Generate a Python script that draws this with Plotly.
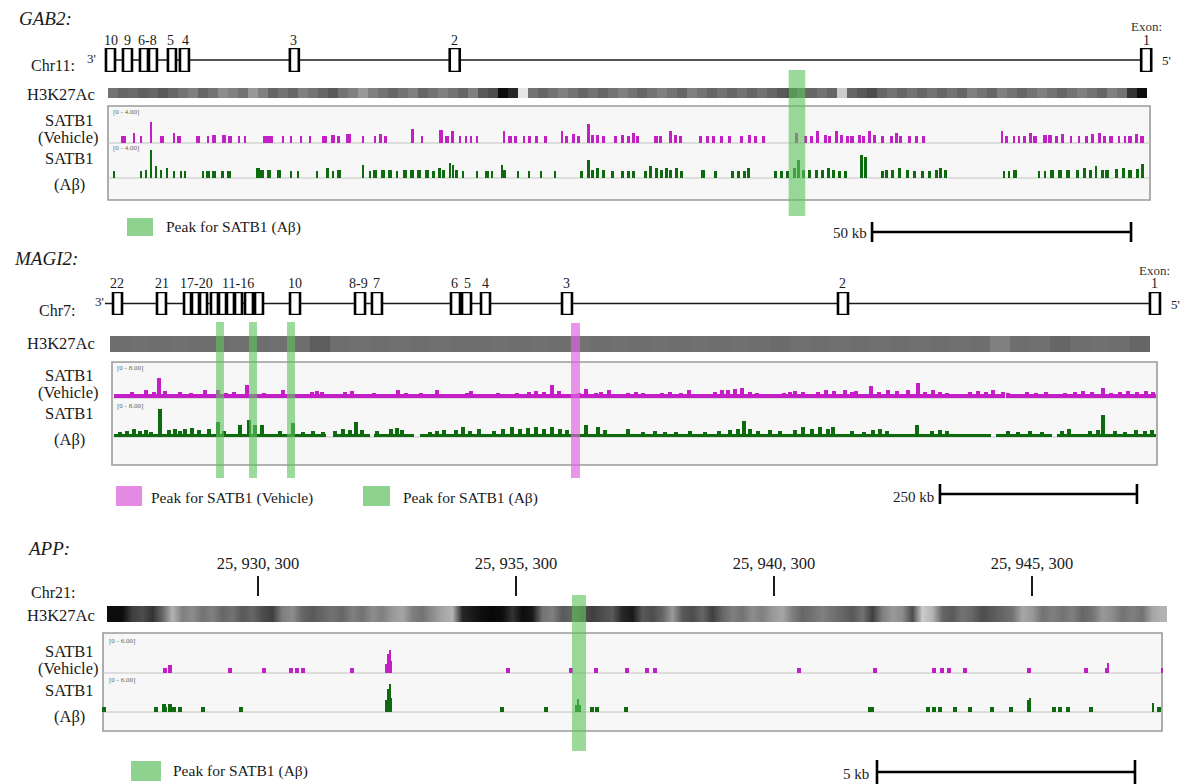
import plotly.graph_objects as go

W, H = 1186, 784
def PX(px): return px / W
def PY(py): return 1 - py / H

SERIF = "Liberation Serif, Times New Roman, serif"
VEH_COLOR = "#c41fc4"
AB_COLOR = "#0e6a0e"
GREEN_HL = "rgba(95,195,95,0.62)"
PINK_HL = "rgba(222,100,222,0.68)"

# ======================= GAB2 (kb) =======================
GAB2_EXONS = [(-0.39, 1.35), (2.89, 4.63), (6.17, 7.72), (7.91, 9.45), (11.57, 13.12),
              (13.89, 15.63), (35.11, 36.84), (65.97, 67.90), (199.46, 201.39)]
GAB2_LABELS = ["10", "9", "6-8", "5", "4", "3", "2", "1"]
GAB2_LABEL_X = [0.58, 3.86, 7.72, 12.15, 15.05, 35.88, 66.94, 200.42]
GAB2_SPAN = (-0.58, 200.42)
GAB2_H3_BIN_KB = 1.929
GAB2_H3 = [0.55, 0.6, 0.58, 0.62, 0.6, 0.65, 0.6, 0.55, 0.5, 0.6, 0.55, 0.45, 0.5, 0.55,
           0.4, 0.5, 0.6, 0.55, 0.6, 0.5, 0.55, 0.6, 0.65, 0.55, 0.5, 0.4, 0.5, 0.55,
           0.6, 0.55, 0.5, 0.6, 0.55, 0.5, 0.55, 0.6, 0.5, 0.65, 0.7, 0.95, 0.85, 0.1,
           0.55, 0.6, 0.55, 0.5, 0.55, 0.6, 0.55, 0.6, 0.55, 0.5, 0.55, 0.6, 0.55, 0.5,
           0.55, 0.6, 0.5, 0.55, 0.6, 0.55, 0.6, 0.55, 0.6, 0.55, 0.6, 0.65, 0.7, 0.6,
           0.6, 0.55, 0.6, 0.2, 0.6, 0.65, 0.7, 0.6, 0.55, 0.6, 0.55, 0.6, 0.55, 0.6,
           0.55, 0.6, 0.5, 0.55, 0.6, 0.5, 0.55, 0.6, 0.55, 0.5, 0.55, 0.6, 0.55, 0.5,
           0.55, 0.6, 0.5, 0.55, 0.8, 0.95]
# (position kb, signal, bin width kb)
GAB2_VEH = [
    (2.99, 0.85, 0.96), (5.02, 1.2, 0.45), (6.37, 0.8, 0.45), (8.29, 2.6, 0.55), (10.42, 0.85, 0.77),
    (12.73, 1.2, 0.45), (13.70, 0.85, 0.77), (17.36, 0.8, 0.7), (19.29, 0.8, 0.45), (20.45, 0.95, 0.77),
    (22.38, 1.0, 0.77), (23.53, 0.85, 0.7), (25.27, 0.8, 0.45), (26.43, 0.8, 0.45), (30.86, 0.85, 1.93),
    (33.76, 0.8, 0.45), (35.30, 0.8, 0.45), (37.23, 0.8, 0.45), (38.97, 0.8, 0.45), (41.86, 0.85, 0.96),
    (43.40, 1.0, 0.7), (44.56, 0.8, 0.55), (46.49, 1.1, 0.96), (49.19, 0.8, 0.45), (51.50, 0.8, 0.45),
    (52.66, 1.1, 0.55), (53.63, 0.85, 0.55), (58.83, 1.7, 0.55), (60.57, 0.8, 0.45), (64.24, 1.6, 0.7),
    (65.39, 0.85, 0.77), (66.55, 1.4, 0.55), (67.90, 0.8, 0.45), (69.06, 0.8, 0.45), (70.02, 0.8, 0.45),
    (71.18, 0.8, 0.45), (76.39, 1.5, 0.45), (77.55, 0.85, 0.77), (78.70, 0.85, 0.7), (80.25, 0.8, 0.45),
    (81.40, 0.85, 0.7), (82.75, 0.8, 0.45), (84.49, 0.8, 0.45), (87.58, 1.4, 0.45), (88.54, 0.85, 0.7),
    (89.89, 1.1, 0.55), (90.86, 0.85, 0.55), (92.79, 2.3, 0.55), (93.56, 0.95, 0.7), (94.52, 0.95, 0.7),
    (95.68, 0.85, 0.7), (97.99, 0.8, 0.45), (99.34, 1.0, 0.45), (100.50, 0.8, 0.45), (101.47, 1.2, 0.55),
    (102.24, 0.85, 0.55), (105.71, 0.85, 0.77), (106.68, 0.8, 0.45), (108.61, 1.5, 0.55), (109.57, 1.0, 0.55),
    (110.53, 0.85, 0.55), (114.39, 0.8, 0.45), (115.74, 0.8, 0.45), (116.90, 0.85, 0.7), (118.44, 0.85, 0.7),
    (119.99, 0.85, 0.7), (122.30, 0.85, 0.55), (123.84, 1.0, 0.55), (125.00, 0.8, 0.45), (126.54, 0.8, 0.45),
    (132.91, 1.2, 0.45), (134.65, 0.85, 0.7), (135.81, 0.8, 0.45), (136.96, 1.5, 0.55), (138.51, 1.0, 0.55),
    (139.28, 0.85, 0.55), (140.63, 1.5, 0.55), (141.59, 0.95, 0.7), (142.75, 0.8, 0.45), (143.71, 0.85, 0.77),
    (145.06, 1.0, 0.55), (145.83, 0.8, 0.45), (146.99, 1.5, 0.55), (147.95, 0.95, 0.55), (149.50, 0.8, 0.45),
    (151.23, 0.8, 0.45), (152.20, 1.2, 0.55), (152.97, 0.85, 0.55), (154.70, 0.85, 0.7), (156.05, 0.85, 0.7),
    (157.40, 0.85, 0.7), (172.64, 1.5, 0.45), (173.41, 0.85, 0.55), (174.96, 0.8, 0.45), (175.92, 0.8, 0.45),
    (176.89, 0.85, 0.55), (178.05, 1.2, 0.55), (179.01, 0.85, 0.7), (180.94, 0.95, 0.7), (181.91, 1.0, 0.7),
    (183.07, 0.85, 0.55), (184.22, 1.1, 0.55), (185.96, 0.8, 0.45), (187.50, 0.8, 0.45), (188.85, 0.85, 0.55),
    (190.01, 1.1, 0.55), (191.36, 1.2, 0.55), (192.32, 0.85, 0.55), (193.67, 0.85, 0.7), (195.21, 0.8, 0.45),
    (196.38, 0.8, 0.45), (197.34, 0.85, 0.7), (198.50, 1.1, 0.55), (199.66, 0.85, 0.7),
]
GAB2_AB = [
    (1.16, 0.85, 0.45), (6.37, 0.85, 0.55), (7.33, 0.95, 0.55), (8.29, 3.4, 0.45), (9.26, 1.4, 0.55),
    (10.22, 0.95, 0.55), (11.38, 1.2, 0.55), (12.73, 0.85, 0.45), (14.08, 0.85, 0.45), (14.85, 0.85, 0.45),
    (18.33, 0.85, 0.45), (19.29, 0.85, 0.7), (20.45, 0.85, 0.7), (22.18, 0.85, 0.55), (23.34, 0.85, 0.7),
    (28.94, 1.2, 0.7), (29.71, 0.95, 0.7), (31.06, 0.95, 0.77), (32.99, 0.95, 0.7), (35.30, 0.85, 0.45),
    (36.65, 0.85, 0.45), (40.32, 0.85, 0.45), (42.44, 1.2, 0.55), (43.40, 0.85, 0.45), (44.56, 0.95, 0.7),
    (49.19, 1.6, 0.45), (50.54, 0.85, 0.45), (51.50, 0.95, 0.7), (53.05, 0.95, 0.7), (54.40, 0.95, 0.7),
    (55.75, 0.85, 0.45), (57.29, 0.95, 0.7), (58.64, 0.95, 0.7), (59.99, 0.95, 0.7), (61.54, 0.95, 0.7),
    (62.89, 0.85, 0.55), (64.04, 1.2, 0.55), (64.81, 0.95, 0.55), (65.97, 1.8, 0.45), (66.55, 1.6, 0.45),
    (67.32, 1.0, 0.55), (68.48, 0.85, 0.45), (71.18, 0.85, 0.45), (73.11, 0.85, 0.7), (74.07, 0.85, 0.45),
    (76.00, 1.6, 0.45), (76.58, 1.0, 0.55), (79.09, 0.85, 0.45), (81.21, 0.85, 0.45), (83.53, 0.85, 0.45),
    (86.23, 0.85, 0.45), (91.44, 0.85, 0.45), (92.79, 2.2, 0.45), (93.56, 1.0, 0.55), (94.52, 1.2, 0.55),
    (95.68, 0.95, 0.7), (97.41, 0.85, 0.45), (99.34, 0.85, 0.45), (100.50, 0.85, 0.45), (101.47, 0.85, 0.55),
    (103.78, 0.85, 0.45), (104.75, 1.4, 0.45), (105.91, 1.2, 0.55), (106.87, 1.0, 0.55), (107.84, 1.2, 0.55),
    (108.61, 0.95, 0.45), (109.77, 1.2, 0.45), (110.73, 0.85, 0.45), (114.78, 0.95, 0.77), (117.29, 0.85, 0.45),
    (120.57, 0.85, 0.45), (121.72, 0.85, 0.45), (122.88, 0.85, 0.55), (123.65, 1.2, 0.45), (128.86, 0.85, 0.45),
    (130.02, 0.85, 0.45), (131.17, 0.85, 0.45), (132.52, 1.2, 0.45), (133.29, 2.2, 0.45), (134.26, 0.95, 0.55),
    (135.42, 0.95, 0.7), (136.77, 0.95, 0.7), (137.93, 0.95, 0.7), (139.08, 1.2, 0.55), (140.05, 0.95, 0.55),
    (141.20, 0.85, 0.45), (142.36, 0.85, 0.45), (145.45, 2.8, 0.45), (146.22, 2.6, 0.45), (149.50, 0.85, 0.45),
    (150.27, 0.95, 0.7), (151.43, 0.95, 0.7), (152.78, 1.2, 0.45), (154.32, 0.95, 0.7), (155.67, 0.85, 0.45),
    (157.21, 0.85, 0.45), (158.56, 0.85, 0.45), (159.92, 0.95, 0.45), (160.69, 1.2, 0.45), (161.65, 0.95, 0.45),
    (173.03, 0.85, 0.45), (174.00, 0.85, 0.45), (175.15, 0.95, 0.77), (179.78, 0.85, 0.45), (180.94, 0.85, 0.45),
    (182.29, 0.95, 0.77), (183.84, 0.95, 0.77), (185.38, 0.95, 0.77), (187.12, 1.0, 0.55), (188.47, 1.2, 0.55),
    (189.62, 0.95, 0.55), (190.78, 1.4, 0.45), (191.94, 1.0, 0.55), (192.90, 0.95, 0.7), (194.64, 1.1, 0.55),
    (195.99, 1.2, 0.55), (197.34, 1.0, 0.7), (198.69, 1.1, 0.55), (199.66, 1.7, 0.55),
]
GAB2_PEAK_AB = [(131.4, 134.6)]
GAB2_SCALE = (147.5, 197.5)   # 50 kb

# ======================= MAGI2 (kb) =======================
MAGI2_EXONS = [(1.3, 12.7), (57.1, 68.5), (91.4, 100.3), (101.5, 110.4), (111.7, 120.6),
               (125.6, 134.5), (135.8, 144.7), (145.9, 154.8), (156.1, 165.0), (168.8, 178.9),
               (181.5, 191.6), (225.9, 238.6), (308.4, 321.1), (329.9, 342.6), (430.2, 441.6),
               (444.2, 455.6), (468.3, 479.7), (571.1, 583.7), (921.3, 934.0), (1317.2, 1329.9)]
MAGI2_LABELS = ["22", "21", "17-20", "11-16", "10", "8-9", "7", "6", "5", "4", "3", "2", "1"]
MAGI2_LABEL_X = [6.3, 63.4, 107.6, 160.0, 232.3, 312.9, 335.7, 434.7, 451.2, 474.0, 576.7, 926.6, 1323.5]
MAGI2_SPAN = (-8.9, 1327.0)
MAGI2_H3_BIN_KB = 25.38
MAGI2_H3 = [0.57, 0.56, 0.57, 0.56, 0.57, 0.57, 0.56, 0.57, 0.56, 0.57, 0.63, 0.57, 0.56, 0.57,
            0.56, 0.57, 0.56, 0.57, 0.57, 0.56, 0.57, 0.56, 0.57, 0.55, 0.57, 0.56, 0.57, 0.56,
            0.57, 0.56, 0.57, 0.56, 0.57, 0.58, 0.56, 0.57, 0.56, 0.57, 0.56, 0.57, 0.56, 0.57,
            0.56, 0.57, 0.5, 0.57, 0.56, 0.6, 0.57, 0.56, 0.57, 0.6]
MAGI2_BIN_KB = 5.0
MAGI2_VEH_BASE = [(2, 1130), (1135, 1325)]
MAGI2_AB_BASE = [(2, 272), (280, 327), (333, 383), (391, 1115), (1122, 1193), (1199, 1325)]
MAGI2_VEH_PEAKS = [
    (25.4, 1.5), (43.1, 2.0), (53.3, 1.5), (59.6, 4.9), (67.3, 1.8), (86.3, 1.5), (100.3, 1.3), (118.0, 2.0),
    (134.5, 2.0), (144.7, 1.3), (154.8, 1.5), (171.3, 3.3), (192.9, 1.3), (217.0, 2.0), (253.8, 1.5),
    (260.1, 1.8), (266.5, 1.5), (295.7, 1.5), (304.6, 1.8), (332.5, 1.3), (362.9, 2.0), (373.1, 1.3),
    (392.1, 1.3), (412.4, 2.0), (450.5, 1.3), (455.6, 1.8), (489.8, 1.3), (513.9, 1.3), (529.2, 1.5),
    (538.1, 1.8), (548.2, 1.5), (558.4, 3.3), (567.2, 1.8), (592.6, 1.3), (601.5, 2.2), (614.2, 1.3),
    (620.5, 1.5), (630.7, 2.0), (654.8, 1.3), (664.9, 1.5), (673.8, 1.3), (697.9, 1.3), (708.1, 1.5),
    (722.1, 1.3), (732.2, 2.0), (765.2, 1.5), (774.1, 2.0), (781.7, 2.0), (790.6, 2.2), (799.5, 2.5),
    (809.6, 1.5), (818.5, 1.3), (852.8, 1.3), (860.4, 1.5), (866.7, 1.8), (876.9, 1.5), (895.9, 1.5),
    (906.1, 2.0), (916.2, 1.8), (930.2, 2.0), (939.1, 1.5), (944.1, 1.8), (963.2, 3.0), (973.3, 1.5),
    (984.7, 2.0), (996.2, 1.8), (1010.1, 2.0), (1022.8, 3.8), (1031.7, 1.5), (1041.8, 2.0), (1050.7, 1.5),
    (1059.6, 1.3), (1088.8, 1.5), (1098.9, 1.8), (1109.1, 1.5), (1118.0, 2.0), (1130.7, 1.5), (1137.0, 1.3),
    (1161.1, 1.5), (1172.6, 1.3), (1185.2, 1.5), (1209.4, 1.3), (1222.0, 1.5), (1232.2, 1.8), (1243.6, 1.5),
    (1257.6, 2.5), (1267.7, 1.3), (1279.2, 1.5), (1289.3, 1.8), (1300.7, 1.5), (1312.2, 1.8), (1321.0, 1.5),
]
MAGI2_AB_PEAKS = [
    (10.2, 1.3), (19.0, 1.5), (27.9, 2.0), (35.5, 1.5), (43.1, 1.8), (49.5, 1.3), (60.9, 7.0), (72.3, 1.8),
    (79.9, 2.0), (86.3, 1.5), (92.6, 2.0), (101.5, 2.2), (110.4, 1.8), (123.1, 2.0), (134.5, 3.7),
    (142.1, 1.5), (162.4, 3.0), (173.9, 4.3), (181.5, 3.0), (190.4, 3.0), (213.2, 1.5), (229.7, 3.5),
    (242.4, 1.3), (255.1, 1.5), (267.8, 1.3), (283.4, 1.5), (293.1, 2.0), (302.0, 1.8), (309.6, 3.8),
    (317.3, 1.8), (336.7, 1.5), (354.1, 2.0), (361.7, 2.2), (368.0, 1.8), (403.5, 1.3), (412.4, 1.5),
    (421.3, 1.8), (436.5, 1.8), (445.4, 2.5), (454.3, 1.5), (465.7, 2.0), (484.8, 1.5), (496.2, 2.0),
    (507.6, 2.5), (517.8, 2.0), (527.9, 2.2), (538.1, 2.5), (548.2, 2.0), (558.4, 2.5), (568.5, 2.0),
    (577.4, 1.8), (601.5, 3.0), (616.7, 2.5), (625.6, 1.8), (654.8, 2.0), (673.8, 1.3), (689.1, 1.5),
    (701.8, 1.3), (715.7, 1.3), (733.5, 1.5), (752.5, 1.3), (770.3, 1.5), (784.2, 1.8), (794.4, 2.0),
    (802.0, 4.0), (809.6, 2.0), (819.8, 1.5), (835.0, 1.8), (847.7, 1.5), (866.7, 1.8), (876.9, 2.5),
    (888.3, 2.0), (898.5, 2.5), (908.6, 2.0), (915.0, 2.5), (939.1, 1.5), (954.3, 1.3), (965.7, 1.8),
    (974.6, 2.0), (983.5, 1.5), (1021.5, 3.0), (1040.6, 1.5), (1050.7, 1.8), (1059.6, 1.5), (1137.0, 1.5),
    (1149.7, 1.3), (1165.0, 1.5), (1180.2, 1.3), (1205.6, 1.5), (1214.4, 2.0), (1241.1, 1.5),
    (1251.2, 1.8), (1257.6, 5.5), (1272.8, 1.5), (1285.5, 1.3), (1299.5, 1.8), (1310.9, 1.5), (1319.8, 1.8),
]
MAGI2_PEAK_AB = [(132.0, 142.1), (173.9, 184.0), (222.1, 232.2)]
MAGI2_PEAK_VEH = [(582.5, 593.9)]
MAGI2_SCALE = (1050.7, 1300.7)   # 250 kb

# ======================= APP (bp, chr21) =======================
APP_TICKS = [25930300, 25935300, 25940300, 25945300]
APP_TICK_TEXT = ["25, 930, 300", "25, 935, 300", "25, 940, 300", "25, 945, 300"]
APP_H3_START = 25927470.5
APP_H3_BIN_BP = 193.8
APP_H3 = [0.95, 0.95, 0.75, 0.7, 0.8, 0.6, 0.3, 0.5, 0.45, 0.55, 0.5, 0.6, 0.55, 0.65, 0.6, 0.7,
          0.75, 0.5, 0.45, 0.6, 0.65, 0.6, 0.55, 0.6, 0.5, 0.55, 0.45, 0.5, 0.4, 0.35, 0.5, 0.55,
          0.45, 0.35, 0.3, 0.85, 0.9, 0.95, 0.97, 0.95, 0.8, 0.95, 0.9, 0.55, 0.5, 0.65, 0.6, 0.7,
          0.75, 0.7, 0.65, 0.85, 0.9, 0.65, 0.7, 0.6, 0.4, 0.65, 0.7, 0.6, 0.75, 0.6, 0.5, 0.55,
          0.45, 0.5, 0.4, 0.35, 0.5, 0.6, 0.55, 0.5, 0.55, 0.6, 0.65, 0.55, 0.75, 0.5, 0.4, 0.45,
          0.7, 0.2, 0.3, 0.6, 0.65, 0.55, 0.6, 0.7, 0.65, 0.6, 0.55, 0.35, 0.4, 0.55, 0.5, 0.55,
          0.5, 0.6, 0.55, 0.4, 0.45, 0.55, 0.5, 0.55, 0.35, 0.3]
APP_VEH = [
    (25928498, 1.0, 80), (25928595, 1.8, 80), (25929757, 1.0, 80), (25930416, 1.0, 80), (25930940, 1.0, 80),
    (25931056, 1.0, 80), (25931172, 1.0, 80), (25932122, 1.0, 80), (25932781, 2.0, 40), (25932819, 4.0, 40),
    (25932849, 5.0, 40), (25932878, 2.5, 40), (25935145, 1.0, 80), (25936366, 1.0, 60), (25936850, 1.0, 60),
    (25937451, 1.0, 80), (25937839, 1.0, 80), (25937994, 1.0, 80), (25940785, 1.0, 80), (25942257, 1.0, 80),
    (25943401, 1.0, 60), (25943556, 1.0, 80), (25943692, 1.0, 80), (25944002, 1.0, 80), (25945242, 1.0, 80),
    (25946347, 1.0, 80), (25946754, 1.0, 80), (25946770, 2.2, 25), (25947820, 1.0, 40),
]
APP_AB = [
    (25927315, 1.0, 80), (25928323, 1.0, 80), (25928478, 1.8, 60), (25928517, 1.0, 40), (25928595, 1.8, 60),
    (25928633, 1.0, 40), (25928672, 1.0, 60), (25928788, 1.0, 80), (25929234, 1.0, 80), (25929971, 1.0, 80),
    (25932781, 2.5, 40), (25932819, 5.0, 40), (25932849, 6.0, 40), (25932878, 3.0, 40), (25935029, 1.0, 80),
    (25935881, 1.0, 80), (25936463, 1.5, 40), (25936502, 2.8, 40), (25936540, 1.5, 40), (25936773, 1.0, 80),
    (25936870, 1.0, 80), (25937432, 1.0, 80), (25942180, 1.0, 110), (25943285, 1.0, 80), (25943401, 1.0, 80),
    (25943517, 1.0, 80), (25943808, 1.0, 60), (25944099, 1.0, 60), (25944525, 1.0, 60), (25944893, 1.0, 60),
    (25945223, 2.5, 30), (25945262, 3.0, 30), (25945726, 1.0, 80), (25945843, 1.0, 60), (25945998, 1.0, 60),
    (25946444, 1.0, 60), (25947645, 2.0, 40), (25947761, 1.0, 80),
]
APP_PEAK_AB = [(25936385, 25936657)]
APP_SCALE = (25942296, 25947296)   # 5 kb

# ---------------------------------------------------------------
fig = go.Figure()

def add_bars(rows, color, xa, ya):
    fig.add_trace(go.Bar(x=[r[0] for r in rows], y=[r[1] for r in rows], width=[r[2] for r in rows],
                         marker=dict(color=color, line=dict(width=0)), xaxis=xa, yaxis=ya,
                         showlegend=False, hoverinfo="skip"))

def add_peaks(rows, binw, color, xa, ya):
    fig.add_trace(go.Bar(x=[r[0] for r in rows], y=[r[1] for r in rows], width=binw,
                         marker=dict(color=color, line=dict(width=0)), xaxis=xa, yaxis=ya,
                         showlegend=False, hoverinfo="skip"))

def add_base(segs, h, color, xa, ya):
    fig.add_trace(go.Bar(x=[(a + b) / 2 for a, b in segs], y=[h] * len(segs),
                         width=[b - a for a, b in segs],
                         marker=dict(color=color, line=dict(width=0)), xaxis=xa, yaxis=ya,
                         showlegend=False, hoverinfo="skip"))

def add_heat(z, x0, dx, xa, ya, smooth=False):
    fig.add_trace(go.Heatmap(z=[z, z], x0=x0, dx=dx, y=[-0.5, 0.5], xaxis=xa, yaxis=ya, zmin=0, zmax=1,
                             colorscale=[[0, "#ffffff"], [1, "#000000"]], showscale=False,
                             zsmooth="best" if smooth else False, hoverinfo="skip"))

def add_gene(span, xa, ya):
    fig.add_trace(go.Scatter(x=list(span), y=[0.5, 0.5], mode="lines",
                             line=dict(color="#1a1a1a", width=1.6), xaxis=xa, yaxis=ya,
                             showlegend=False, hoverinfo="skip"))

shapes = []
annots = []

def T(text, x, y, size=16, xanchor="center", xref="paper", color="#1a1a1a", italic=False):
    if italic:
        text = "<i>" + text + "</i>"
    annots.append(dict(text=text, x=x, y=y, xref=xref, yref="paper", xanchor=xanchor,
                       yanchor="middle", showarrow=False,
                       font=dict(family=SERIF, size=size, color=color)))

def exon_boxes(exons, xref, yref):
    for a, b in exons:
        shapes.append(dict(type="rect", xref=xref, yref=yref, x0=a, x1=b, y0=0, y1=1,
                           fillcolor="white", line=dict(color="black", width=2.6), layer="above"))

def highlights(pk, xref, y0, y1, color):
    for a, b in pk:
        shapes.append(dict(type="rect", xref=xref, yref="paper", x0=a, x1=b,
                           y0=PY(y1), y1=PY(y0), fillcolor=color, line=dict(width=0), layer="above"))

def track_frame(x0, x1, y0, y1, baselines):
    shapes.append(dict(type="rect", xref="paper", yref="paper", x0=PX(x0), x1=PX(x1),
                       y0=PY(y1), y1=PY(y0), fillcolor="#f7f7f7",
                       line=dict(color="#9a9a9a", width=1.6), layer="below"))
    for b in baselines:
        shapes.append(dict(type="line", xref="paper", yref="paper", x0=PX(x0), x1=PX(x1),
                           y0=PY(b), y1=PY(b), line=dict(color="#c4c4c4", width=1), layer="below"))

def scale_bar(sc, xref, yc, half):
    a, b = sc
    shapes.append(dict(type="line", xref=xref, yref="paper", x0=a, x1=b, y0=PY(yc), y1=PY(yc),
                       line=dict(color="black", width=2.6)))
    for x in (a, b):
        shapes.append(dict(type="line", xref=xref, yref="paper", x0=x, x1=x,
                           y0=PY(yc + half), y1=PY(yc - half), line=dict(color="black", width=2.6)))

def legend_square(x0, x1, y0, y1, color):
    shapes.append(dict(type="rect", xref="paper", yref="paper", x0=PX(x0), x1=PX(x1),
                       y0=PY(y1), y1=PY(y0), fillcolor=color, line=dict(width=0)))

def side_labels(h3, sv1, sv2, sa1, sa2):
    T("H3K27Ac", PX(61), PY(h3), size=16.5)
    T("SATB1", PX(69), PY(sv1), size=16.5)
    T("(Vehicle)", PX(68), PY(sv2), size=16.5)
    T("SATB1", PX(69), PY(sa1), size=16.5)
    T("(Aβ)", PX(69), PY(sa2), size=16.5)

# ---------------- GAB2 ----------------
track_frame(108, 1150, 106, 200, [143, 178])
add_gene(GAB2_SPAN, "x", "y")
add_heat(GAB2_H3, GAB2_H3_BIN_KB / 2, GAB2_H3_BIN_KB, "x", "y2")
add_bars(GAB2_VEH, VEH_COLOR, "x", "y3")
add_bars(GAB2_AB, AB_COLOR, "x", "y4")
exon_boxes(GAB2_EXONS, "x", "y")
highlights(GAB2_PEAK_AB, "x", 70, 216, GREEN_HL)
scale_bar(GAB2_SCALE, "x", 232, 10)
legend_square(127, 153, 218, 236, "#8fd18f")
T("GAB2:", PX(17), PY(18), size=19, xanchor="left", italic=True)
T("Chr11:", PX(77), PY(65), size=16, xanchor="right")
T("3'", PX(91), PY(59), size=13)
T("5'", PX(1166), PY(61), size=13)
for lab, x in zip(GAB2_LABELS, GAB2_LABEL_X):
    T(lab, x, PY(41), size=14, xref="x")
T("Exon:", GAB2_LABEL_X[-1], PY(26), size=13, xref="x", color="#333")
side_labels(94, 120, 137, 159, 184)
T("[0 - 4.00]", PX(111), PY(112), size=7, xanchor="left", color="#666")
T("[0 - 4.00]", PX(111), PY(148), size=7, xanchor="left", color="#666")
T("Peak for SATB1 (Aβ)", PX(164), PY(227), size=15.5, xanchor="left")
T("50 kb", PX(869), PY(233), size=15, xanchor="right")

# ---------------- MAGI2 ----------------
track_frame(112, 1157, 362, 465, [398, 437])
add_gene(MAGI2_SPAN, "x2", "y5")
add_heat(MAGI2_H3, -2.54 + MAGI2_H3_BIN_KB / 2, MAGI2_H3_BIN_KB, "x2", "y6")
add_base(MAGI2_VEH_BASE, 1.1, VEH_COLOR, "x2", "y7")
add_peaks(MAGI2_VEH_PEAKS, MAGI2_BIN_KB, VEH_COLOR, "x2", "y7")
add_base(MAGI2_AB_BASE, 0.8, AB_COLOR, "x2", "y8")
add_peaks(MAGI2_AB_PEAKS, MAGI2_BIN_KB, AB_COLOR, "x2", "y8")
exon_boxes(MAGI2_EXONS, "x2", "y5")
highlights(MAGI2_PEAK_AB, "x2", 322, 478, GREEN_HL)
highlights(MAGI2_PEAK_VEH, "x2", 323, 478, PINK_HL)
scale_bar(MAGI2_SCALE, "x2", 494, 10)
legend_square(116, 142, 486, 506, "#e38ae3")
legend_square(363, 390, 486, 506, "#8fd18f")
T("MAGI2:", PX(12), PY(259), size=19, xanchor="left", italic=True)
T("Chr7:", PX(77), PY(311), size=16, xanchor="right")
T("3'", PX(99), PY(301), size=13)
T("5'", PX(1175), PY(304), size=13)
for lab, x in zip(MAGI2_LABELS, MAGI2_LABEL_X):
    T(lab, x, PY(283), size=14, xref="x2")
T("Exon:", MAGI2_LABEL_X[-1], PY(270), size=13, xref="x2", color="#333")
side_labels(344, 375, 392, 414, 440)
T("[0 - 8.00]", PX(115), PY(368), size=7, xanchor="left", color="#666")
T("[0 - 8.00]", PX(115), PY(406), size=7, xanchor="left", color="#666")
T("Peak for SATB1 (Vehicle)", PX(149), PY(498), size=15.5, xanchor="left")
T("Peak for SATB1 (Aβ)", PX(401), PY(498), size=15.5, xanchor="left")
T("250 kb", PX(936), PY(497), size=15, xanchor="right")

# ---------------- APP ----------------
track_frame(103, 1162, 633, 731, [673, 712])
add_heat(APP_H3, APP_H3_START, APP_H3_BIN_BP, "x3", "y9", smooth=True)
add_bars(APP_VEH, VEH_COLOR, "x3", "y10")
add_bars(APP_AB, AB_COLOR, "x3", "y11")
highlights(APP_PEAK_AB, "x3", 595, 751, GREEN_HL)
scale_bar(APP_SCALE, "x3", 772, 12)
legend_square(131, 161, 761, 781, "#8fd18f")
T("APP:", PX(25), PY(548), size=19, xanchor="left", italic=True)
T("Chr21:", PX(77), PY(592), size=16, xanchor="right")
side_labels(615, 651, 668, 690, 716)
T("[0 - 6.00]", PX(107), PY(641), size=7, xanchor="left", color="#666")
T("[0 - 6.00]", PX(107), PY(680), size=7, xanchor="left", color="#666")
T("Peak for SATB1 (Aβ)", PX(171), PY(771), size=15.5, xanchor="left")
T("5 kb", PX(871), PY(774), size=15, xanchor="right")

# ---------------- axes ----------------
def hidden_x(rng):
    return dict(domain=[0, 1], range=rng, visible=False, fixedrange=True)

def y_ax(anchor, top, bottom, rng):
    return dict(domain=[PY(bottom), PY(top)], range=rng, anchor=anchor, visible=False, fixedrange=True)

kb_per_px_gab2 = 50 / 259.0
kb_per_px_magi2 = 250 / 197.0
bp_per_px_app = 5000 / 258.0

layout = dict(
    width=W, height=H, margin=dict(l=0, r=0, t=0, b=0),
    paper_bgcolor="white", plot_bgcolor="rgba(0,0,0,0)", barmode="overlay", bargap=0,
    showlegend=False,
    xaxis=hidden_x([-108 * kb_per_px_gab2, (W - 108) * kb_per_px_gab2]),
    xaxis2=hidden_x([-112 * kb_per_px_magi2, (W - 112) * kb_per_px_magi2]),
    xaxis3=dict(domain=[0, 1], range=[APP_TICKS[0] - 258 * bp_per_px_app,
                                      APP_TICKS[0] + (W - 258) * bp_per_px_app],
                anchor="free", position=PY(596), side="top", showline=False, showgrid=False,
                zeroline=False, ticks="outside", ticklen=20, tickwidth=1.6, tickcolor="#1a1a1a",
                tickvals=APP_TICKS, ticktext=APP_TICK_TEXT,
                tickfont=dict(family=SERIF, size=16.5, color="#1a1a1a"), fixedrange=True),
    yaxis=y_ax("x", 48, 72, [0, 1]),
    yaxis2=y_ax("x", 88, 98, [-0.5, 0.5]),
    yaxis3=y_ax("x", 110, 143, [0, 4]),
    yaxis4=y_ax("x", 145, 178, [0, 4]),
    yaxis5=y_ax("x2", 292, 315, [0, 1]),
    yaxis6=y_ax("x2", 336, 352, [-0.5, 0.5]),
    yaxis7=y_ax("x2", 366, 398, [0, 8]),
    yaxis8=y_ax("x2", 405, 437, [0, 8]),
    yaxis9=y_ax("x3", 606, 622, [-0.5, 0.5]),
    yaxis10=y_ax("x3", 645, 673, [0, 6]),
    yaxis11=y_ax("x3", 684, 712, [0, 6]),
    shapes=shapes, annotations=annots,
)
fig.update_layout(**layout)
fig.write_html("out.html")
